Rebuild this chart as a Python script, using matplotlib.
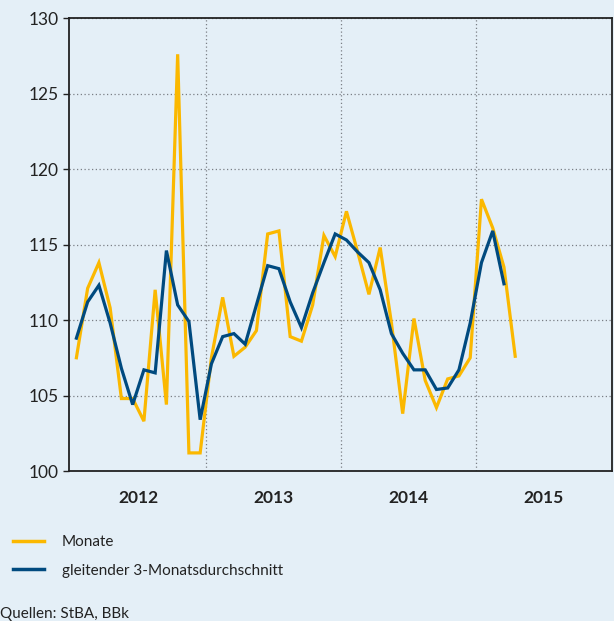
import numpy as np
import matplotlib
matplotlib.use("Agg")
import matplotlib.pyplot as plt
from matplotlib.lines import Line2D

plt.rcParams['font.family'] = ['Lato', 'DejaVu Sans']

# Monatswerte Jan 2012 - Apr 2015
monate = [107.5, 112.1, 113.8, 110.8, 104.8, 104.8, 103.3, 112.0, 104.4, 127.6, 101.2, 101.2,
          107.5, 111.5, 107.6, 108.2, 109.3, 115.7, 115.9, 108.9, 108.6, 111.0, 115.6, 114.2,
          117.2, 114.5, 111.7, 114.8, 109.8, 103.8, 110.1, 106.0, 104.2, 106.1, 106.3, 107.5,
          118.0, 116.1, 113.5, 107.6]
# gleitender 3-Monatsdurchschnitt Jan 2012 - Mar 2015
gleitend = [108.8, 111.2, 112.3, 109.8, 106.8, 104.4, 106.7, 106.5, 114.6, 111.0, 109.9, 103.4,
            107.1, 108.9, 109.1, 108.4, 111.0, 113.6, 113.4, 111.2, 109.5, 111.8, 113.8, 115.7,
            115.3, 114.5, 113.8, 112.0, 109.1, 107.8, 106.7, 106.7, 105.4, 105.5, 106.7, 109.8,
            113.8, 115.9, 112.4]
jahre = ['2012', '2013', '2014', '2015']

bg = '#e4eff7'
gelb = '#fbb800'
blau = '#004a7f'

fig = plt.figure(figsize=(6.14, 6.21), dpi=100, facecolor=bg)
ax = fig.add_axes([0.1116, 0.2415, 0.8851, 0.7295], facecolor=bg)

x1 = np.arange(len(monate))
x2 = np.arange(len(gleitend))
ax.plot(x1, monate, color=gelb, lw=2.3, solid_joinstyle='miter', zorder=3)
ax.plot(x2, gleitend, color=blau, lw=2.3, solid_joinstyle='miter', zorder=4)

ax.set_xlim(-0.7, 47.6)
ax.set_ylim(100, 130)
ax.set_yticks(range(100, 131, 5))
ax.tick_params(axis='y', direction='out', length=4, width=1, labelsize=12.5, pad=3, colors='#222222')

# Jahresgrenzen als Major-Ticks, Jahreszahlen als Minor-Labels
ax.set_xticks([11.5, 23.5, 35.5])
ax.set_xticklabels([])
ax.set_xticks([5.5, 17.5, 29.5, 41.5], minor=True)
ax.set_xticklabels(jahre, minor=True)
for lab in ax.get_xticklabels(minor=True):
    lab.set_fontweight('bold')
    lab.set_fontsize(12.5)
ax.tick_params(axis='x', which='both', length=0, pad=14, colors='#222222')

ax.grid(True, which='major', color='#7a7f85', ls=(0, (1, 2)), lw=0.9)
for s in ax.spines.values():
    s.set_color('#222222')
    s.set_linewidth(1.3)

handles = [Line2D([], [], color=gelb, lw=2.5), Line2D([], [], color=blau, lw=2.5)]
fig.legend(handles, ['Monate', 'gleitender 3-Monatsdurchschnitt'], loc='upper left',
           bbox_to_anchor=(0.012, 0.148), frameon=False, fontsize=11, handlelength=2.0,
           handletextpad=1.15, labelspacing=0.95, labelcolor='#222222', borderaxespad=0)

fig.text(0.0, 0.005, 'Quellen: StBA, BBk', fontsize=11, color='#222222')

fig.savefig('out.png', dpi=100, facecolor=bg)
